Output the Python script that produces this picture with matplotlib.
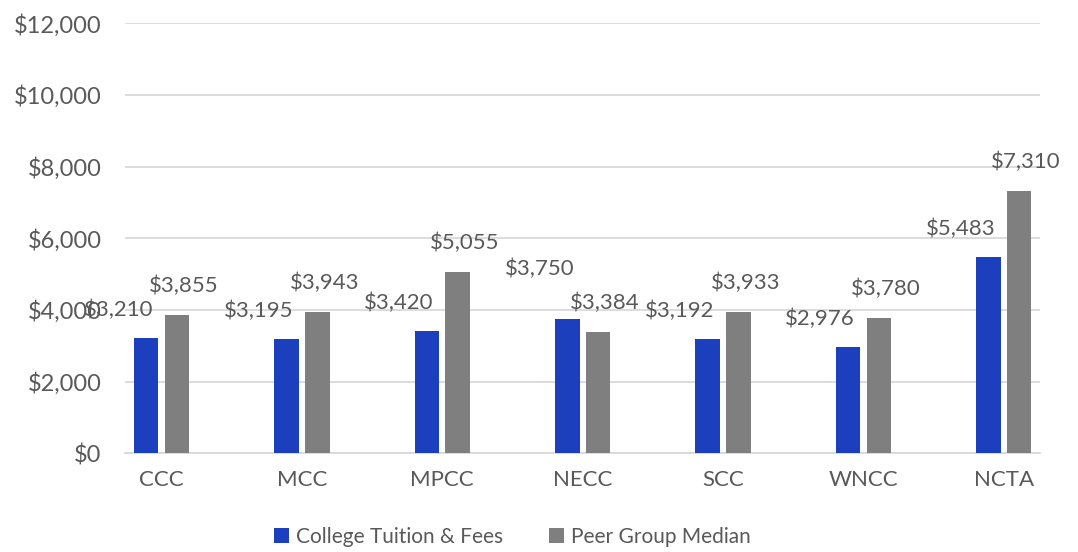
import matplotlib
matplotlib.use("Agg")
import matplotlib.pyplot as plt
import numpy as np

categories = ["CCC", "MCC", "MPCC", "NECC", "SCC", "WNCC", "NCTA"]
tuition = [3210, 3195, 3420, 3750, 3192, 2976, 5483]
peer_median = [3855, 3943, 5055, 3384, 3933, 3780, 7310]
yticks = [0, 2000, 4000, 6000, 8000, 10000, 12000]

plt.rcParams['font.family'] = ['Lato', 'DejaVu Sans']
text_color = "#595959"
blue = "#1c40bd"
gray = "#7f7f7f"

fig = plt.figure(figsize=(10.78, 5.52), dpi=100)
ax = fig.add_axes([0.116, 0.179, 0.849, 0.779])

x = np.arange(len(categories))
w = 0.175
off = 0.11
b1 = ax.bar(x - off, tuition, w, color=blue, label="College Tuition & Fees", zorder=3)
b2 = ax.bar(x + off, peer_median, w, color=gray, label="Peer Group Median", zorder=3)

for xi, v, p in zip(x, tuition, peer_median):
    dy = 36 if v > p else 20
    ax.annotate(f"${v:,}", (xi - off, v), xytext=(-20, dy), textcoords="offset points",
                ha="center", va="center", fontsize=16, color=text_color, zorder=4)
for xi, v in zip(x, peer_median):
    ax.annotate(f"${v:,}", (xi + off, v), xytext=(5, 21), textcoords="offset points",
                ha="center", va="center", fontsize=16, color=text_color, zorder=4)

ax.set_ylim(0, 12000)
ax.set_xlim(-0.26, 6.26)
ax.set_yticks(yticks)
ax.set_yticklabels([f"${t:,}" for t in yticks])
ax.set_xticks(x)
ax.set_xticklabels(categories)
ax.yaxis.grid(True, color="#d9d9d9", linewidth=1.3, zorder=0)
ax.set_axisbelow(True)
for s in ["top", "right", "left"]:
    ax.spines[s].set_visible(False)
ax.spines["bottom"].set_color("#d9d9d9")
ax.spines["bottom"].set_linewidth(1.3)
ax.tick_params(axis="both", length=0, labelsize=16, labelcolor=text_color)
ax.tick_params(axis="y", labelsize=17, pad=17)
ax.tick_params(axis="x", pad=12)

leg = fig.legend(handles=[b1, b2], loc="center", bbox_to_anchor=(0.475, 0.027), ncol=2,
                 frameon=False, fontsize=15, handlelength=0.75, handleheight=0.75,
                 handletextpad=0.3, columnspacing=2.2)
for t in leg.get_texts():
    t.set_color(text_color)

fig.savefig("out.png", dpi=100)
